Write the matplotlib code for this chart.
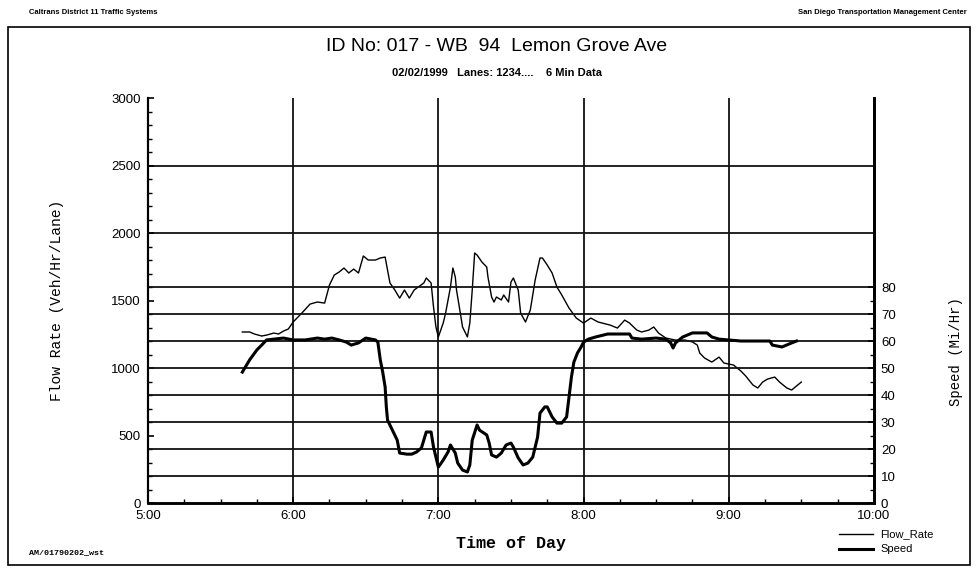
import numpy as np
import matplotlib
matplotlib.use("Agg")
import matplotlib.pyplot as plt
from matplotlib.patches import Rectangle

plt.rcParams['font.family'] = ['Liberation Sans', 'DejaVu Sans']

# minutes after 5:00 and flow rate (veh/hr/lane)
flow_min = [39, 42, 44, 47, 49, 52, 54, 56, 58, 60, 62, 64, 67, 70, 73, 75, 77, 79, 81, 83,
            85, 87, 89, 91, 94, 96, 98, 100, 102, 104, 106, 108, 110, 114, 115, 117, 118, 119, 120, 122,
            123, 125, 126, 127, 127.5, 129, 130, 132, 133, 134, 135, 136, 138, 140, 140.5, 142, 143, 144, 146, 147,
            149, 150, 151, 153, 154, 156, 158, 160, 162, 163, 165, 167, 169, 171, 174, 177, 180, 183, 186, 191,
            194, 197, 199, 202, 204, 207, 209, 211, 214, 218, 222, 225, 227, 228, 230, 233, 236, 238, 242, 245,
            247, 250, 252, 254, 256, 259, 261, 264, 266, 268, 270]
flow_val = [1267, 1267, 1252, 1237, 1244, 1259, 1252, 1274, 1289, 1341, 1378, 1415, 1474, 1489, 1481, 1615, 1689, 1711, 1741, 1704,
            1733, 1704, 1830, 1800, 1800, 1815, 1822, 1630, 1578, 1518, 1578, 1518, 1578, 1630, 1667, 1630, 1452, 1304, 1230, 1333,
            1407, 1600, 1741, 1674, 1578, 1415, 1304, 1230, 1333, 1578, 1852, 1837, 1785, 1748, 1674, 1526, 1489, 1526, 1504, 1541,
            1489, 1637, 1667, 1578, 1407, 1341, 1430, 1652, 1815, 1815, 1763, 1704, 1600, 1541, 1444, 1370, 1333, 1370, 1341, 1318,
            1296, 1355, 1333, 1281, 1267, 1281, 1304, 1259, 1222, 1207, 1207, 1193, 1170, 1111, 1074, 1044, 1081, 1037, 1022, 978,
            941, 874, 852, 896, 918, 933, 896, 852, 837, 867, 896]

# minutes after 5:00 and speed (mi/hr)
speed_min = [39, 42, 45, 47, 49, 52, 56, 60, 65, 70, 73, 76, 79, 82, 84, 87, 90, 94, 95, 96,
             97, 98, 98.5, 99, 101, 103, 104, 107, 109, 111, 113, 115, 117, 118, 119, 120, 122, 124, 125, 127,
             128, 130, 132, 133, 134, 136, 137, 140, 141, 142, 144, 146, 148, 150, 151, 153, 155, 157, 159, 161,
             162, 164, 165, 167, 169, 171, 173, 174, 175, 176, 177.5, 179, 180, 182, 185, 190, 195, 199, 200, 204,
             210, 214, 216, 217, 218, 221, 225, 231, 233, 236, 245, 257, 258, 262, 266, 268]
speed_val = [48.5, 53.0, 56.7, 58.5, 60.4, 60.7, 61.1, 60.4, 60.4, 61.1, 60.7, 61.1, 60.4, 59.6, 58.5, 59.3, 61.1, 60.4, 59.6, 53.0,
             48.5, 43.0, 35.6, 30.7, 27.0, 23.3, 18.5, 18.1, 18.1, 18.9, 20.4, 26.3, 26.3, 20.7, 17.0, 13.3, 15.9, 18.9, 21.5, 18.5,
             14.8, 12.2, 11.5, 14.1, 23.3, 28.9, 27.0, 25.2, 22.2, 17.8, 17.0, 18.5, 21.5, 22.2, 20.7, 16.7, 14.1, 14.8, 17.0, 24.4,
             33.3, 35.6, 35.6, 31.9, 29.6, 29.6, 31.9, 39.3, 46.7, 52.2, 55.6, 57.8, 59.6, 60.7, 61.5, 62.6, 62.6, 62.6, 61.1, 60.7,
             61.1, 60.7, 59.3, 57.4, 59.3, 61.5, 63.0, 63.0, 61.5, 60.7, 60.0, 60.0, 58.5, 57.8, 59.3, 60.0]

hour_ticks = [5, 6, 7, 8, 9, 10]
hour_labels = ['5:00', '6:00', '7:00', '8:00', '9:00', '10:00']
flow_ticks = [0, 500, 1000, 1500, 2000, 2500, 3000]
speed_ticks = [0, 10, 20, 30, 40, 50, 60, 70, 80]

fig = plt.figure(figsize=(9.78, 5.72), dpi=100)
ax = fig.add_axes([0.1513, 0.1206, 0.7423, 0.708])
ax2 = ax.twinx()

# outer frame
fig.patches.append(Rectangle((0.008, 0.012), 0.984, 0.940, transform=fig.transFigure,
                             fill=False, edgecolor='black', linewidth=1.2))

fig.text(0.03, 0.978, 'Caltrans District 11 Traffic Systems', fontsize=5.5, fontweight='bold',
         ha='left', va='center')
fig.text(0.988, 0.978, 'San Diego Transportation Management Center', fontsize=5.5, fontweight='bold',
         ha='right', va='center')
fig.text(0.508, 0.918, 'ID No: 017 - WB  94  Lemon Grove Ave', fontsize=14, ha='center', va='center')
fig.text(0.508, 0.872, '02/02/1999   Lanes: 1234....    6 Min Data', fontsize=8, fontweight='bold',
         ha='center', va='center')

# grid
for h in hour_ticks[1:-1]:
    ax.axvline(h, color='#111111', linewidth=1.3, zorder=1)
for f in [2000, 2500]:
    ax.axhline(f, color='#111111', linewidth=1.3, zorder=1)
for s in speed_ticks[1:]:
    ax2.axhline(s, color='#111111', linewidth=1.3, zorder=1)

t_flow = 5 + np.array(flow_min) / 60.0
t_speed = 5 + np.array(speed_min) / 60.0
ax.plot(t_flow, flow_val, color='black', linewidth=1.0, zorder=3)
ax2.plot(t_speed, speed_val, color='black', linewidth=2.2, zorder=3)

ax.set_xlim(5, 10)
ax.set_ylim(0, 3000)
ax2.set_ylim(0, 150)

ax.set_xticks(hour_ticks)
ax.set_xticklabels(hour_labels)
ax.set_xticks(np.arange(5, 10.01, 0.25), minor=True)
ax.set_yticks(flow_ticks)
ax.set_yticks(np.arange(0, 3001, 100), minor=True)
ax2.set_yticks(speed_ticks)
ax2.set_yticks(np.arange(0, 81, 5), minor=True)

for a in (ax, ax2):
    a.spines['top'].set_visible(False)
    a.spines['left'].set_linewidth(1.5)
    a.spines['right'].set_linewidth(2.0)
    a.spines['bottom'].set_linewidth(1.8)
    a.tick_params(which='both', direction='in', labelsize=9.5)
    a.tick_params(which='major', length=4, width=1.2, pad=5)
    a.tick_params(which='minor', length=3, width=1.0)

mono = ['Liberation Mono', 'DejaVu Sans Mono']
ax.set_ylabel('Flow Rate (Veh/Hr/Lane)', family=mono, fontsize=10.5, labelpad=34)
ax.set_xlabel('Time of Day', family=mono, fontsize=12, fontweight='bold', labelpad=10)
fig.text(0.977, 0.385, 'Speed (Mi/Hr)', family=mono, fontsize=10, rotation=90,
         ha='center', va='center')

# legend
fig.lines.append(plt.Line2D([0.858, 0.893], [0.066, 0.066], transform=fig.transFigure,
                            color='black', linewidth=1.0))
fig.lines.append(plt.Line2D([0.858, 0.893], [0.041, 0.041], transform=fig.transFigure,
                            color='black', linewidth=2.2))
fig.text(0.9, 0.066, 'Flow_Rate', fontsize=8, ha='left', va='center')
fig.text(0.9, 0.041, 'Speed', fontsize=8, ha='left', va='center')
fig.text(0.03, 0.033, 'AM/01790202_wst', fontsize=6, fontweight='bold', ha='left', va='center', family=mono)

fig.savefig('out.png', dpi=100)
